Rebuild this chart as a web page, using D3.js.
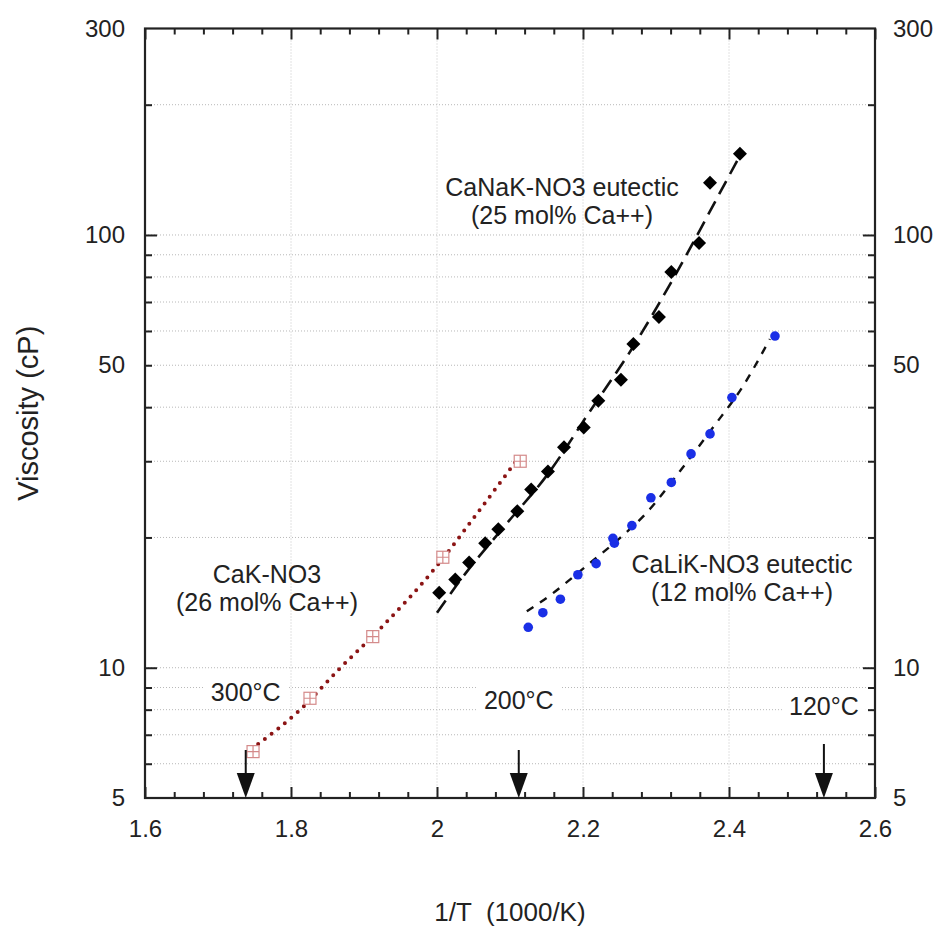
<!DOCTYPE html>
<html>
<head>
<meta charset="utf-8">
<script src="https://cdn.jsdelivr.net/npm/d3@7"></script>
<style>
  body { margin: 0; background: #fff; }
  text { font-family: "Liberation Sans", Arial, Helvetica, sans-serif; fill: #222; }
</style>
</head>
<body>
<div id="chart"></div>
<script>
// 1000/T values and viscosities (cP)
var cakX = [1.748, 1.826, 1.912, 2.008, 2.114];
var cakY = [6.4, 8.5, 11.8, 18.0, 30.0];
var cakFitX = [1.755, 1.812, 1.867, 1.922, 1.995, 2.063, 2.107];
var cakFitY = [6.66, 7.98, 9.97, 12.3, 16.8, 23.7, 29.8];

var canakX = [2.003, 2.025, 2.044, 2.066, 2.084, 2.110, 2.129, 2.152, 2.174, 2.201,
              2.221, 2.252, 2.269, 2.304, 2.321, 2.359, 2.374, 2.415];
var canakY = [14.9, 16.0, 17.5, 19.4, 20.9, 23.0, 25.8, 28.4, 32.3, 35.9,
              41.4, 46.3, 56.0, 64.6, 82.1, 95.8, 132, 154];
var canakFitX = [2.000, 2.034, 2.092, 2.151, 2.208, 2.267, 2.325, 2.384, 2.418];
var canakFitY = [13.4, 16.1, 21.2, 27.9, 38.8, 54.6, 80.0, 122, 156];

var calikX = [2.125, 2.145, 2.169, 2.193, 2.218, 2.241, 2.243, 2.267, 2.293, 2.321,
              2.348, 2.374, 2.404, 2.463];
var calikY = [12.4, 13.4, 14.4, 16.4, 17.4, 19.9, 19.4, 21.3, 24.7, 26.8,
              31.2, 34.7, 42.1, 58.4];
var calikFitX = [2.123, 2.155, 2.203, 2.247, 2.288, 2.333, 2.378, 2.419, 2.456];
var calikFitY = [13.5, 14.7, 17.1, 19.7, 22.9, 28.5, 35.9, 44.7, 57.5];

// temperature markers
var tempLabels = ["300°C", "200°C", "120°C"];
var tempX = [1.738, 2.112, 2.530];

// ticks
var xMajor = [1.6, 1.8, 2.0, 2.2, 2.4, 2.6];
var xMinor = d3.range(1.64, 2.6, 0.04).filter(function(v) { return Math.abs((v * 5) - Math.round(v * 5)) > 0.01; });
var yLabels = [5, 10, 50, 100, 300];
var yMajor = [10, 100];
var yMinor = [6, 7, 8, 9, 20, 30, 40, 50, 60, 70, 80, 90, 200];
var yGrid = [6, 7, 8, 9, 10, 20, 30, 40, 50, 60, 70, 80, 90, 100, 200];
var xGrid = [1.8, 2.0, 2.2, 2.4];

var W = 943, H = 927;
var margin = {top: 28.5, right: 68, bottom: 129, left: 145};
var width = W - margin.left - margin.right,
    height = H - margin.top - margin.bottom;

var svg = d3.select("#chart").append("svg")
  .attr("width", W)
  .attr("height", H);

var g = svg.append("g")
  .attr("transform", `translate(${margin.left}, ${margin.top})`);

var x = d3.scaleLinear().domain([1.6, 2.6]).range([0, width]);
var y = d3.scaleLog().domain([5, 300]).range([height, 0]);

//GRID
g.append("g").selectAll("line.hgrid")
  .data(yGrid).enter().append("line")
  .attr("x1", 0).attr("x2", width)
  .attr("y1", function(d) { return y(d); })
  .attr("y2", function(d) { return y(d); })
  .attr("stroke", "#b8b8b8").attr("stroke-width", 1)
  .attr("stroke-dasharray", "1,2");

g.append("g").selectAll("line.vgrid")
  .data(xGrid).enter().append("line")
  .attr("y1", 0).attr("y2", height)
  .attr("x1", function(d) { return x(d); })
  .attr("x2", function(d) { return x(d); })
  .attr("stroke", "#c4c4c4").attr("stroke-width", 1)
  .attr("stroke-dasharray", "1,2");

//AXES (ticks point inward)
function noLabels(sel) { sel.selectAll("text").remove(); sel.select(".domain").remove(); }

g.append("g").attr("transform", `translate(0, ${height})`)
  .call(d3.axisBottom(x).tickValues(xMajor).tickSize(-11).tickPadding(22).tickFormat(d3.format("")))
  .call(function(s) { s.select(".domain").remove(); })
  .selectAll("text").style("font-size", "24px");
g.append("g").attr("transform", `translate(0, ${height})`)
  .call(d3.axisBottom(x).tickValues(xMinor).tickSize(-6)).call(noLabels);
g.append("g")
  .call(d3.axisTop(x).tickValues(xMajor).tickSize(-11)).call(noLabels);
g.append("g")
  .call(d3.axisTop(x).tickValues(xMinor).tickSize(-6)).call(noLabels);

g.append("g")
  .call(d3.axisLeft(y).tickValues(yLabels).tickSize(0).tickPadding(20).tickFormat(d3.format("d")))
  .call(function(s) { s.select(".domain").remove(); })
  .selectAll("text").style("font-size", "24px");
g.append("g").attr("transform", `translate(${width}, 0)`)
  .call(d3.axisRight(y).tickValues(yLabels).tickSize(0).tickPadding(18).tickFormat(d3.format("d")))
  .call(function(s) { s.select(".domain").remove(); })
  .selectAll("text").style("font-size", "24px");

g.append("g").call(d3.axisLeft(y).tickValues(yMajor).tickSize(-12)).call(noLabels);
g.append("g").call(d3.axisLeft(y).tickValues(yMinor).tickSize(-7)).call(noLabels);
g.append("g").attr("transform", `translate(${width}, 0)`)
  .call(d3.axisRight(y).tickValues(yMajor).tickSize(-12)).call(noLabels);
g.append("g").attr("transform", `translate(${width}, 0)`)
  .call(d3.axisRight(y).tickValues(yMinor).tickSize(-7)).call(noLabels);

g.selectAll(".tick line").attr("stroke", "#222").attr("stroke-width", 2);

//FRAME
g.append("rect")
  .attr("width", width).attr("height", height)
  .attr("fill", "none").attr("stroke", "#222").attr("stroke-width", 2.2);

//FIT LINES
var line = d3.line()
  .x(function(d) { return x(d[0]); })
  .y(function(d) { return y(d[1]); })
  .curve(d3.curveMonotoneX);

g.append("path")
  .datum(d3.zip(cakFitX, cakFitY))
  .attr("d", line)
  .attr("fill", "none").attr("stroke", "#8b1414").attr("stroke-width", 4)
  .attr("stroke-linecap", "round").attr("stroke-dasharray", "0,8.5");

g.append("path")
  .datum(d3.zip(canakFitX, canakFitY))
  .attr("d", line)
  .attr("fill", "none").attr("stroke", "#111").attr("stroke-width", 2.6)
  .attr("stroke-dasharray", "15,8");

g.append("path")
  .datum(d3.zip(calikFitX, calikFitY))
  .attr("d", line)
  .attr("fill", "none").attr("stroke", "#111").attr("stroke-width", 2.4)
  .attr("stroke-dasharray", "8,8");

//MARKERS
var sq = g.append("g").selectAll("g")
  .data(d3.zip(cakX, cakY)).enter().append("g")
  .attr("transform", function(d) { return `translate(${x(d[0])}, ${y(d[1])})`; });
sq.append("rect")
  .attr("x", -6).attr("y", -6).attr("width", 12).attr("height", 12)
  .attr("fill", "#fff").attr("stroke", "#d48a8a").attr("stroke-width", 1.2);
sq.append("path")
  .attr("d", "M-6,0H6M0,-6V6")
  .attr("stroke", "#d48a8a").attr("stroke-width", 1.2);

g.append("g").selectAll("path")
  .data(d3.zip(canakX, canakY)).enter().append("path")
  .attr("d", "M0,-7L7,0L0,7L-7,0Z")
  .attr("transform", function(d) { return `translate(${x(d[0])}, ${y(d[1])})`; })
  .attr("fill", "#000");

g.append("g").selectAll("circle")
  .data(d3.zip(calikX, calikY)).enter().append("circle")
  .attr("cx", function(d) { return x(d[0]); })
  .attr("cy", function(d) { return y(d[1]); })
  .attr("r", 4.8)
  .attr("fill", "#1a2fe6");

//TEMPERATURE ARROWS
var tLabelY = [692, 700, 706];
var tArrowTop = [750, 750, 744];
tempX.forEach(function(t, i) {
  var px = x(t);
  var top = tArrowTop[i] - margin.top;
  var ly = tLabelY[i] - margin.top;
  g.append("rect")
    .attr("x", px - 42).attr("y", ly - 17).attr("width", 84).attr("height", 32)
    .attr("fill", "#fff");
  g.append("text")
    .attr("x", px).attr("y", ly)
    .attr("dy", "0.35em")
    .attr("text-anchor", "middle")
    .style("font-size", "25px")
    .text(tempLabels[i]);
  g.append("line")
    .attr("x1", px).attr("x2", px)
    .attr("y1", top).attr("y2", height - 20)
    .attr("stroke", "#111").attr("stroke-width", 2);
  g.append("path")
    .attr("d", `M${px - 9},${height - 25}L${px + 9},${height - 25}L${px},${height}Z`)
    .attr("fill", "#111");
});

//SERIES LABELS
function label(lines, cx, cy) {
  var t = g.append("text")
    .attr("text-anchor", "middle")
    .style("font-size", "25px");
  lines.forEach(function(s, i) {
    t.append("tspan").attr("x", cx - margin.left).attr("y", cy - margin.top + i * 28).text(s);
  });
}
label(["CaNaK-NO3 eutectic", "(25 mol% Ca++)"], 562, 196);
label(["CaK-NO3", "(26 mol% Ca++)"], 267, 583);
label(["CaLiK-NO3 eutectic", "(12 mol% Ca++)"], 742, 573);

//AXIS TITLES
svg.append("text")
  .attr("transform", `translate(38, ${margin.top + height / 2}) rotate(-90)`)
  .attr("text-anchor", "middle")
  .style("font-size", "29px")
  .text("Viscosity (cP)");

svg.append("text")
  .attr("x", margin.left + width / 2).attr("y", 921)
  .attr("text-anchor", "middle")
  .style("font-size", "26px")
  .style("white-space", "pre")
  .text("1/T  (1000/K)");
</script>
</body>
</html>
